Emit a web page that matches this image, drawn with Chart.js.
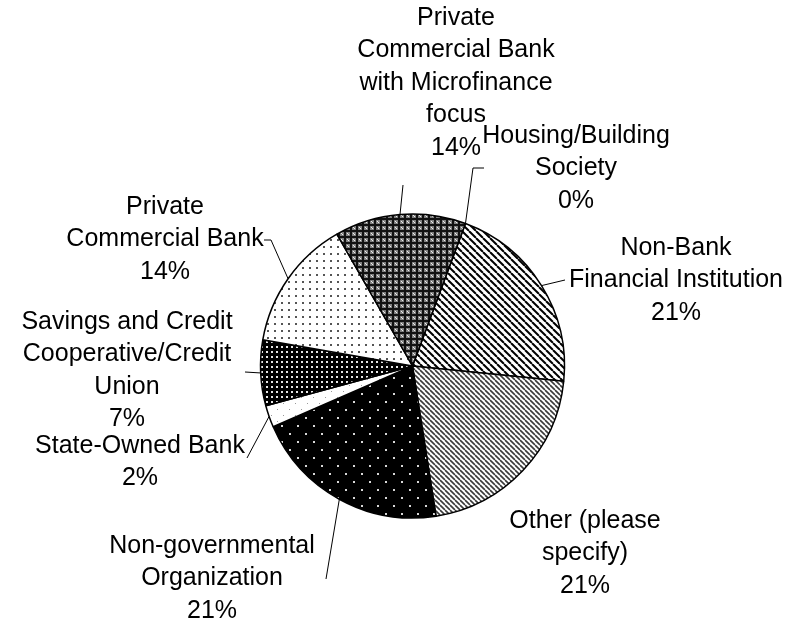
<!DOCTYPE html>
<html>
<head>
<meta charset="utf-8">
<script src="https://cdn.jsdelivr.net/npm/chart.js@4.4.1/dist/chart.umd.min.js"></script>
<style>
  html, body { margin: 0; padding: 0; background: #fff; }
  #wrap { width: 791px; height: 626px; position: relative; }
</style>
</head>
<body>
<div id="wrap"><canvas id="pie"></canvas></div>
<script>
// Institution types, clockwise from the 0% slice
const categories = [
    'Housing/Building Society',
    'Non-Bank Financial Institution',
    'Other (please specify)',
    'Non-governmental Organization',
    'State-Owned Bank',
    'Savings and Credit Cooperative/Credit Union',
    'Private Commercial Bank',
    'Private Commercial Bank with Microfinance focus'
];
const respondents = [0, 9, 9, 9, 1, 3, 6, 6];
const percentLabels = ['0%', '21%', '21%', '21%', '2%', '7%', '14%', '14%'];

// Wrapped category text drawn above each percentage
const labelLines = [
    ['Housing/Building', 'Society'],
    ['Non-Bank', 'Financial Institution'],
    ['Other (please', 'specify)'],
    ['Non-governmental', 'Organization'],
    ['State-Owned Bank'],
    ['Savings and Credit', 'Cooperative/Credit', 'Union'],
    ['Private', 'Commercial Bank'],
    ['Private', 'Commercial Bank', 'with Microfinance', 'focus']
];

// label block placement: centre x, first line y, leader path from the label side (null = none)
const labelLayout = [
    { x: 576, y: 136, lead: [[484, 168], [473, 168]] },
    { x: 676, y: 248, lead: [[565, 280]] },
    { x: 585, y: 521, lead: null },
    { x: 212, y: 546, lead: [[326, 579]] },
    { x: 140, y: 446, lead: [[247, 458]] },
    { x: 127, y: 322, lead: [[245, 372]] },
    { x: 165, y: 207, lead: [[264, 240], [271, 240]] },
    { x: 456, y: 18, lead: [[403, 185]] }
];
const LINE_H = 32.5;

function makeTile(size, draw) {
    const c = document.createElement('canvas');
    c.width = size; c.height = size;
    const g = c.getContext('2d');
    draw(g, size);
    return g.createPattern(c, 'repeat');
}

function diagonal(bg, fg, size, width) {
    return makeTile(size, (g, s) => {
        g.fillStyle = bg; g.fillRect(0, 0, s, s);
        g.strokeStyle = fg; g.lineWidth = width;
        for (let k = -1; k <= 1; k++) {
            g.beginPath();
            g.moveTo(k * s, 0);
            g.lineTo(k * s + s, s);
            g.stroke();
        }
    });
}

function dots(bg, fg, size, dot, stagger) {
    return makeTile(size, (g, s) => {
        g.fillStyle = bg; g.fillRect(0, 0, s, s);
        g.fillStyle = fg;
        g.fillRect(1, 1, dot, dot);
        if (stagger) g.fillRect(s / 2 + 1, s / 2 + 1, dot, dot);
    });
}

// dark grey with a black lattice and small light points
const smallGrid = makeTile(6, (g, s) => {
    g.fillStyle = '#808080'; g.fillRect(0, 0, s, s);
    g.fillStyle = '#111';
    g.fillRect(2, 0, 2, 6);
    g.fillRect(0, 2, 6, 2);
    g.fillStyle = '#eee';
    g.fillRect(5, 5, 1, 1);
    g.fillRect(0, 0, 1, 1);
});

const fills = [
    '#ffffff',
    diagonal('#ffffff', '#000000', 7, 2),
    diagonal('#ffffff', '#3a3a3a', 5, 1.6),
    dots('#000000', '#d8d8d8', 16, 2, true),
    dots('#ffffff', '#9a9a9a', 12, 1, true),
    dots('#000000', '#e6e6e6', 5, 2, false),
    dots('#ffffff', '#555555', 7, 2, false),
    smallGrid
];

// Draws wrapped labels with their percentages and leader lines to each slice's mid-angle edge
const outsideLabels = {
    id: 'outsideLabels',
    afterDatasetsDraw(chart) {
        const ctx = chart.ctx;
        const arcs = chart.getDatasetMeta(0).data;
        ctx.save();
        ctx.font = '25px "Liberation Sans", Arial, sans-serif';
        ctx.fillStyle = '#000';
        ctx.textAlign = 'center';
        ctx.textBaseline = 'middle';
        ctx.strokeStyle = '#000';
        ctx.lineWidth = 1;
        labelLayout.forEach((lay, i) => {
            const lines = labelLines[i].concat([percentLabels[i]]);
            lines.forEach((line, j) => {
                ctx.fillText(line, lay.x, lay.y + j * LINE_H);
            });
            if (!lay.lead) return;
            const a = arcs[i];
            const mid = (a.startAngle + a.endAngle) / 2;
            const ex = a.x + Math.cos(mid) * a.outerRadius;
            const ey = a.y + Math.sin(mid) * a.outerRadius;
            ctx.beginPath();
            ctx.moveTo(lay.lead[0][0], lay.lead[0][1]);
            for (let k = 1; k < lay.lead.length; k++) ctx.lineTo(lay.lead[k][0], lay.lead[k][1]);
            ctx.lineTo(ex, ey);
            ctx.stroke();
        });
        ctx.restore();
    }
};

new Chart(document.getElementById('pie'), {
    type: 'pie',
    data: {
        labels: categories,
        datasets: [{
            data: respondents,
            backgroundColor: fills,
            borderColor: '#000000',
            borderWidth: 1.5,
            borderAlign: 'center'
        }]
    },
    options: {
        responsive: true,
        maintainAspectRatio: false,
        animation: false,
        rotation: 20.4,
        radius: 152,
        layout: { padding: { left: 200, right: 166, top: 180, bottom: 74 } },
        plugins: {
            legend: { display: false },
            tooltip: { enabled: false }
        }
    },
    plugins: [outsideLabels]
});
</script>
</body>
</html>
